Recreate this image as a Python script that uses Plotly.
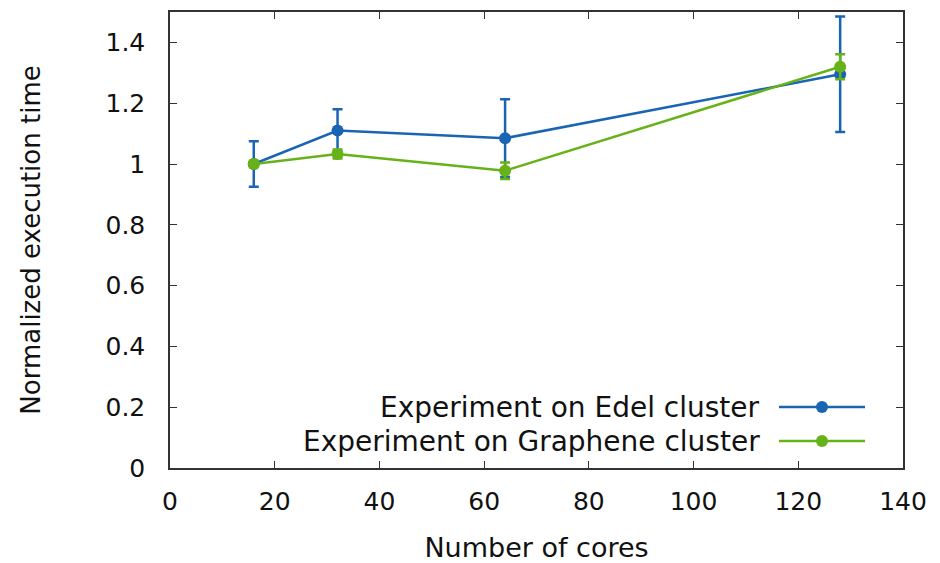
import plotly.graph_objects as go

cores = [16, 32, 64, 128]
edel_time = [1.0, 1.11, 1.085, 1.295]
edel_err = [0.075, 0.07, 0.128, 0.19]
graphene_time = [1.0, 1.033, 0.978, 1.32]
graphene_err = [0.01, 0.015, 0.027, 0.041]
series_names = ["Experiment on Edel cluster", "Experiment on Graphene cluster"]
blue = "#1a64b4"
green = "#66b218"

x_ticks = [0, 20, 40, 60, 80, 100, 120, 140]
y_ticks = [0, 0.2, 0.4, 0.6, 0.8, 1.0, 1.2, 1.4]
y_tick_text = ["0", "0.2", "0.4", "0.6", "0.8", "1", "1.2", "1.4"]

FONT = "DejaVu Sans"

fig = go.Figure()
for name, ys, errs, col in [(series_names[0], edel_time, edel_err, blue),
                            (series_names[1], graphene_time, graphene_err, green)]:
    fig.add_trace(go.Scatter(
        x=cores, y=ys, mode="lines+markers", name=name,
        line=dict(color=col, width=2.5),
        marker=dict(color=col, size=12, symbol="circle"),
        error_y=dict(type="data", array=errs, visible=True, color=col,
                     thickness=2.5, width=5),
        showlegend=False,
    ))

# Plot geometry in pixels (for the hand-drawn legend with keys on the right)
L, R, T, B = 170, 903, 12, 468
W, H = R - L, B - T

def px(xp):
    return (xp - L) / W

def py(yp):
    return (B - yp) / H

rows = [(407, blue), (441, green)]
for (yrow, col), name in zip(rows, series_names):
    fig.add_annotation(x=px(762), y=py(yrow), xref="paper", yref="paper",
                       text=name, showarrow=False, xanchor="right", yanchor="middle",
                       font=dict(family=FONT, size=28, color="#111"))
    fig.add_shape(type="line", xref="paper", yref="paper",
                  x0=px(779), x1=px(865), y0=py(yrow), y1=py(yrow),
                  line=dict(color=col, width=2.5))
    fig.add_shape(type="circle", xref="paper", yref="paper",
                  x0=px(816), x1=px(828), y0=py(yrow + 6), y1=py(yrow - 6),
                  fillcolor=col, line=dict(color=col, width=0))

axis_common = dict(
    showline=True, linecolor="#333", linewidth=1.5, mirror="allticks",
    ticks="inside", ticklen=7, tickwidth=1.3, tickcolor="#333",
    showgrid=False, zeroline=False, automargin=False,
    tickfont=dict(family=FONT, size=25, color="#111"),
)

fig.update_layout(
    width=940, height=563,
    margin=dict(l=L, r=940 - R, t=T, b=563 - B),
    paper_bgcolor="white", plot_bgcolor="white",
    xaxis=dict(range=[0, 140], tickvals=x_ticks, ticklabelstandoff=10,
               title=dict(text="Number of cores", standoff=25,
                          font=dict(family=FONT, size=27, color="#111")),
               **axis_common),
    yaxis=dict(range=[0, 1.5], tickvals=y_ticks, ticktext=y_tick_text,
               ticklabelstandoff=18,
               title=dict(text="Normalized execution time", standoff=57,
                          font=dict(family=FONT, size=26, color="#111")),
               **axis_common),
)

fig.write_html("out.html")
